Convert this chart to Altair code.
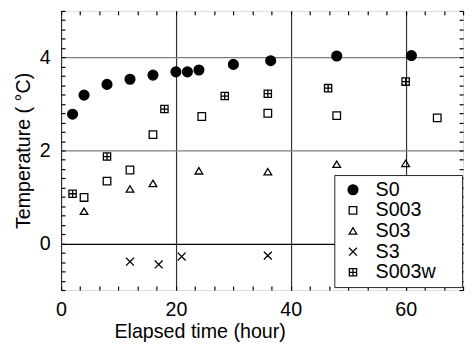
import altair as alt
import pandas as pd

series_names = ["S0", "S003", "S03", "S3", "S003w"]

s0_time = [2, 4, 8, 12, 16, 20, 22, 24, 30, 36.5, 48, 61]
s0_temp = [2.78, 3.19, 3.42, 3.53, 3.62, 3.69, 3.69, 3.73, 3.85, 3.93, 4.03, 4.04]
s003_time = [4, 8, 12, 16, 24.5, 36, 48, 65.5]
s003_temp = [0.99, 1.34, 1.58, 2.34, 2.73, 2.80, 2.75, 2.70]
s03_time = [4, 12, 16, 24, 36, 48, 60]
s03_temp = [0.69, 1.17, 1.29, 1.56, 1.54, 1.70, 1.72]
s3_time = [12, 17, 21, 36]
s3_temp = [-0.39, -0.45, -0.28, -0.26]
s003w_time = [2, 8, 18, 28.5, 36, 46.5, 60]
s003w_temp = [1.07, 1.87, 2.89, 3.17, 3.22, 3.34, 3.48]

x_ticks = [round(i * 10 / 3, 4) for i in range(22)]
y_ticks = [round(-1 + 0.2 * i, 1) for i in range(31)]

rows = []
for name, ts, vs in [
    ("S0", s0_time, s0_temp),
    ("S003", s003_time, s003_temp),
    ("S03", s03_time, s03_temp),
    ("S3", s3_time, s3_temp),
    ("S003w", s003w_time, s003w_temp),
]:
    for t, v in zip(ts, vs):
        rows.append({"series": name, "time": t, "temp": v})
df = pd.DataFrame(rows)

shapes = [
    "circle",
    "M-0.77,-0.77H0.77V0.77H-0.77Z",
    "M0,-0.68L0.78,0.62L-0.78,0.62Z",
    "M-0.8,-0.8L0.8,0.8M-0.8,0.8L0.8,-0.8",
    "M-0.74,-0.74H0.74V0.74H-0.74ZM0,-0.74V0.74M-0.74,0H0.74",
]
fills = ["black", "transparent", "transparent", "transparent", "transparent"]
strokes = ["black", "black", "black", "black", "black"]

FONT = "Liberation Sans"
x_major = "abs(datum.value/20 - round(datum.value/20)) < 0.001"
y_major = "abs(datum.value/2 - round(datum.value/2)) < 0.001"

x_scale = alt.Scale(domain=[0, 70], nice=False, zero=False)
y_scale = alt.Scale(domain=[-1, 5], nice=False, zero=False)

legend = alt.Legend(
    title="xx",
    titleOrient="right",
    titleColor="transparent",
    titleFontSize=20,
    titleFontWeight="normal",
    titleFont=FONT,
    titlePadding=2,
    orient="none",
    legendX=278,
    legendY=167,
    padding=5,
    fillColor="white",
    strokeColor="#222",
    rowPadding=1,
    labelFontSize=20,
    labelFont=FONT,
    labelOffset=13,
    symbolOffset=4,
    symbolSize=100,
    symbolStrokeWidth=1.3,
    symbolStrokeColor="black",
    symbolOpacity=1,
)

points = alt.Chart(df).mark_point(
    size=100, strokeWidth=1.3, opacity=1
).encode(
    x=alt.X(
        "time:Q",
        scale=x_scale,
        title="Elapsed time (hour)",
        axis=alt.Axis(
            values=x_ticks,
            labelExpr=f"{x_major} ? toString(round(datum.value)) : ''",
            labelOverlap=False,
            labelFlush=False,
            labelBound=False,
            labelFontSize=20,
            labelFont=FONT,
            labelColor="black",
            labelPadding=14,
            tickSize={"expr": "-4"},
            tickColor="black",
            tickWidth=1.2,
            domain=False,
            grid=True,
            gridColor="#333",
            gridWidth=1.2,
            gridOpacity={"condition": {"test": x_major, "value": 1}, "value": 0},
            titleFontSize=20,
            titleFont=FONT,
            titleFontWeight="normal",
            titleColor="black",
            titlePadding=2,
            titleX=141,
        ),
    ),
    y=alt.Y(
        "temp:Q",
        scale=y_scale,
        title="Temperature (  °C)",
        axis=alt.Axis(
            values=y_ticks,
            labelExpr=f"{y_major} ? toString(round(datum.value)) : ''",
            labelOverlap=False,
            labelFlush=False,
            labelBound=False,
            labelFontSize=20,
            labelFont=FONT,
            labelColor="black",
            labelPadding=15,
            tickSize={"expr": "-4"},
            tickColor="black",
            tickWidth=1.2,
            domain=False,
            grid=True,
            gridColor={"condition": {"test": "datum.value === 0", "value": "black"}, "value": "#808080"},
            gridWidth=1.3,
            gridOpacity={"condition": {"test": y_major, "value": 1}, "value": 0},
            titleFontSize=20,
            titleFont=FONT,
            titleFontWeight="normal",
            titleColor="black",
            titlePadding=6,
        ),
    ),
    shape=alt.Shape("series:N", scale=alt.Scale(domain=series_names, range=shapes), legend=legend),
    fill=alt.Fill("series:N", scale=alt.Scale(domain=series_names, range=fills), legend=legend),
    stroke=alt.Stroke("series:N", scale=alt.Scale(domain=series_names, range=strokes), legend=legend),
)

mirror = alt.Chart(df).mark_point(opacity=0).encode(
    x=alt.X(
        "time:Q",
        scale=x_scale,
        title=None,
        axis=alt.Axis(
            orient="top", values=x_ticks, labels=False, domain=False, grid=False,
            tickSize={"expr": "-4"}, tickColor="black", tickWidth=1.2,
        ),
    ),
    y=alt.Y(
        "temp:Q",
        scale=y_scale,
        title=None,
        axis=alt.Axis(
            orient="right", values=y_ticks, labels=False, domain=False, grid=False,
            tickSize={"expr": "-4"}, tickColor="black", tickWidth=1.2,
        ),
    ),
)

chart = alt.layer(points, mirror).resolve_axis(x="independent", y="independent").properties(
    width=409,
    height=284,
    autosize=alt.AutoSizeParams(type="none"),
    padding={"left": 54, "top": 0, "right": 4, "bottom": 55},
).configure_view(stroke="black", strokeWidth=1.5).configure(font=FONT, background="white")

chart.save("out.html", embed_options={"renderer": "svg", "actions": False})
